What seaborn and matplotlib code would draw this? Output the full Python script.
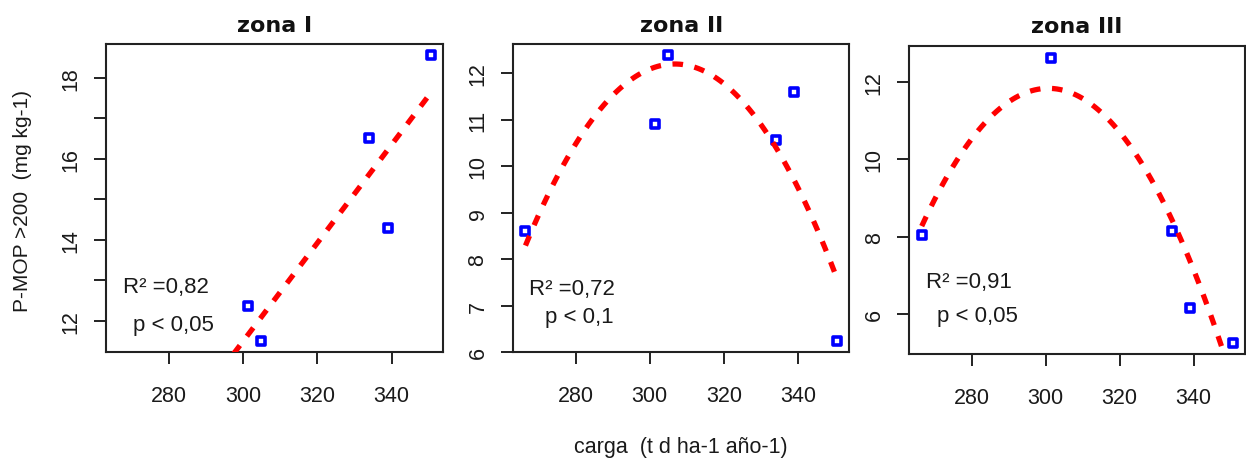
import matplotlib
matplotlib.use("Agg")
import matplotlib.pyplot as plt
import seaborn as sns
import numpy as np
import pandas as pd

# ---- data ----
carga_z1 = [301.5, 305.0, 334.0, 339.0, 350.5]
pmop_z1 = [12.37, 11.51, 16.50, 14.29, 18.55]

carga_z2 = [266.5, 301.5, 305.0, 334.0, 339.0, 350.5]
pmop_z2 = [8.61, 10.91, 12.38, 10.56, 11.60, 6.25]

carga_z3 = [266.5, 301.5, 334.0, 339.0, 350.5]
pmop_z3 = [8.04, 12.62, 8.16, 6.15, 5.27]

titles = ["zona I", "zona II", "zona III"]
fit_order = [1, 2, 2]
r2_labels = ["R\u00b2 =0,82", "R\u00b2 =0,72", "R\u00b2 =0,91"]
p_labels = ["p < 0,05", "p < 0,1", "p < 0,05"]
x_ticks = [280, 300, 320, 340]
y_ticks = [list(range(12, 19)), list(range(6, 13)), [6, 8, 10, 12]]
y_ticklabels = [["12", "", "14", "", "16", "", "18"],
                ["6", "7", "8", "9", "10", "11", "12"],
                ["6", "8", "10", "12"]]
x_label = "carga  (t d ha-1 a\u00f1o-1)"
y_label = "P-MOP >200  (mg kg-1)"

# ---- style ----
sns.set_style("white")
plt.rcParams["font.family"] = ["Liberation Sans", "DejaVu Sans"]

W, H = 1246, 460
fig = plt.figure(figsize=(W / 100, H / 100), dpi=100)

# axes boxes in pixels: left, right, top, bottom
boxes = [(106, 443, 45, 353), (513, 849.3, 45, 353.3), (909.3, 1245, 47.3, 355)]
r2_pos = [(0.050, 0.194), (0.0485, 0.189), (0.050, 0.217)]
p_pos = [(0.081, 0.071), (0.095, 0.097), (0.082, 0.108)]
title_base = [32.3, 32.3, 33.3]

xs = [carga_z1, carga_z2, carga_z3]
ys = [pmop_z1, pmop_z2, pmop_z3]
all_x = carga_z1 + carga_z2 + carga_z3
xmin, xmax = min(all_x), max(all_x)
xr = xmax - xmin

for i in range(3):
    l, r, t, b = boxes[i]
    ax = fig.add_axes([l / W, 1 - b / H, (r - l) / W, (b - t) / H])
    df = pd.DataFrame({"carga": xs[i], "pmop": ys[i]})
    ax.set_xlim(xmin, xmax)
    sns.regplot(data=df, x="carga", y="pmop", order=fit_order[i], ci=None,
                scatter=False, truncate=False, ax=ax,
                line_kws=dict(color="#ff0000", lw=3.8, dashes=(2.0, 2.2), zorder=4))
    sns.scatterplot(data=df, x="carga", y="pmop", marker="s", s=34,
                    color="white", edgecolor="#0000ff", linewidth=2.6, ax=ax, zorder=3)
    ax.set_xlim(xmin - 0.04 * xr, xmax + 0.04 * xr)
    ymn, ymx = min(ys[i]), max(ys[i])
    yr = ymx - ymn
    ax.set_ylim(ymn - 0.04 * yr, ymx + 0.04 * yr)
    ax.set_xlabel("")
    ax.set_ylabel("")
    ax.set_xticks(x_ticks)
    ax.set_xticklabels([str(v) for v in x_ticks])
    ax.set_yticks(y_ticks[i])
    ax.set_yticklabels(y_ticklabels[i], rotation=90, va="center")
    ax.tick_params(axis="both", direction="out", length=8.6, width=1.4,
                   bottom=True, left=True, top=False, right=False,
                   color="#222222", labelsize=15.5, labelcolor="#1a1a1a")
    ax.tick_params(axis="x", pad=15)
    ax.tick_params(axis="y", pad=9)
    for sp in ax.spines.values():
        sp.set_visible(True)
        sp.set_color("#222222")
        sp.set_linewidth(1.5)
    ax.text(r2_pos[i][0], r2_pos[i][1], r2_labels[i], transform=ax.transAxes,
            ha="left", va="baseline", fontsize=16, color="#1a1a1a")
    ax.text(p_pos[i][0], p_pos[i][1], p_labels[i], transform=ax.transAxes,
            ha="left", va="baseline", fontsize=16, color="#1a1a1a")
    fig.text((l + r) / 2 / W, 1 - title_base[i] / H, titles[i],
             ha="center", va="baseline", fontsize=16, fontweight="bold",
             family=["DejaVu Sans"], color="#111111")

fig.text(681 / W, 1 - 448 / H, x_label, ha="center", va="center",
         fontsize=15.5, color="#1a1a1a")
fig.text(23 / W, 1 - 201 / H, y_label, ha="center", va="center",
         rotation=90, fontsize=15, color="#1a1a1a")

fig.savefig("out.png", dpi=100, facecolor="white")
